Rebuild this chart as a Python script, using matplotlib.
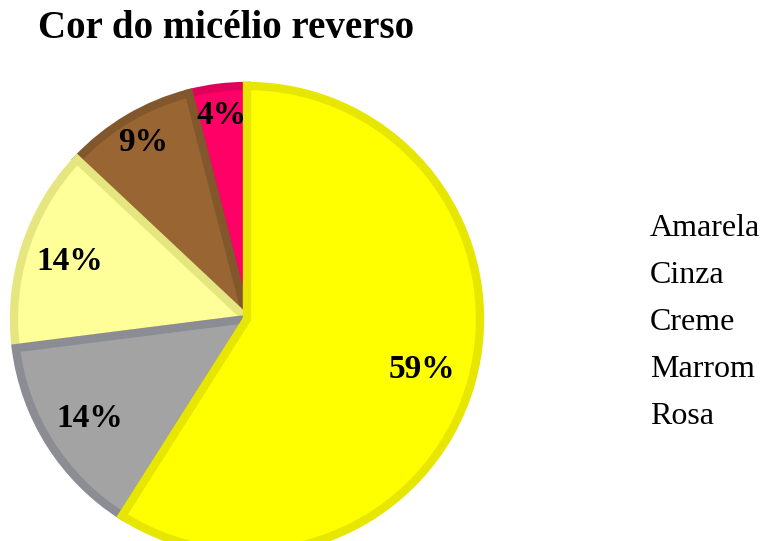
import matplotlib

matplotlib.use("Agg")

import matplotlib.pyplot as plt

categorias = ["Amarela", "Cinza", "Creme", "Marrom", "Rosa"]
percentuais = [59, 14, 14, 9, 4]
cores = ["#FFFF00", "#A3A3A3", "#FFFF99", "#996633", "#FF0066"]
bordas = ["#E6E600", "#8C8C94", "#E6E680", "#82572B", "#E0005C"]
dist_rotulo = [0.78, 0.8, 0.8, 0.88, 0.88]

plt.rcParams["font.family"] = ["Liberation Serif", "DejaVu Serif"]

fig = plt.figure(figsize=(7.65, 5.41), dpi=100)

# pie centred at ~(245, 315) px, radius ~233 px
ax = fig.add_axes([14 / 765, -11 / 541, 466 / 765, 466 / 541])

fatias, textos, pcts = ax.pie(
    percentuais,
    colors=cores,
    startangle=90,
    counterclock=False,
    autopct="%1.0f%%",
    pctdistance=1.0,
    radius=1.0,
    wedgeprops=dict(linewidth=6),
    textprops=dict(fontsize=24, fontweight="bold", color="black"),
)
for fatia, borda, z in zip(fatias, bordas, [5, 4, 3, 2, 1]):
    fatia.set_edgecolor(borda)
    fatia.set_zorder(z)
for t, d in zip(pcts, dist_rotulo):
    x, y = t.get_position()
    t.set_position((x * d, y * d))
    t.set_zorder(10)

ax.set_xlim(-1, 1)
ax.set_ylim(-1, 1)
ax.set_aspect("equal")

fig.text(0.05, 0.948, "Cor do micélio reverso", fontsize=28, fontweight="bold",
         ha="left", va="center")

leg = fig.legend(
    fatias,
    categorias,
    loc="center left",
    bbox_to_anchor=(650 / 765, 0.404),
    frameon=False,
    fontsize=23,
    handlelength=0,
    handletextpad=0,
    borderpad=0,
    borderaxespad=0,
    labelspacing=0.55,
)
for h in leg.legend_handles:
    h.set_visible(False)

fig.savefig("out.png", dpi=100)
